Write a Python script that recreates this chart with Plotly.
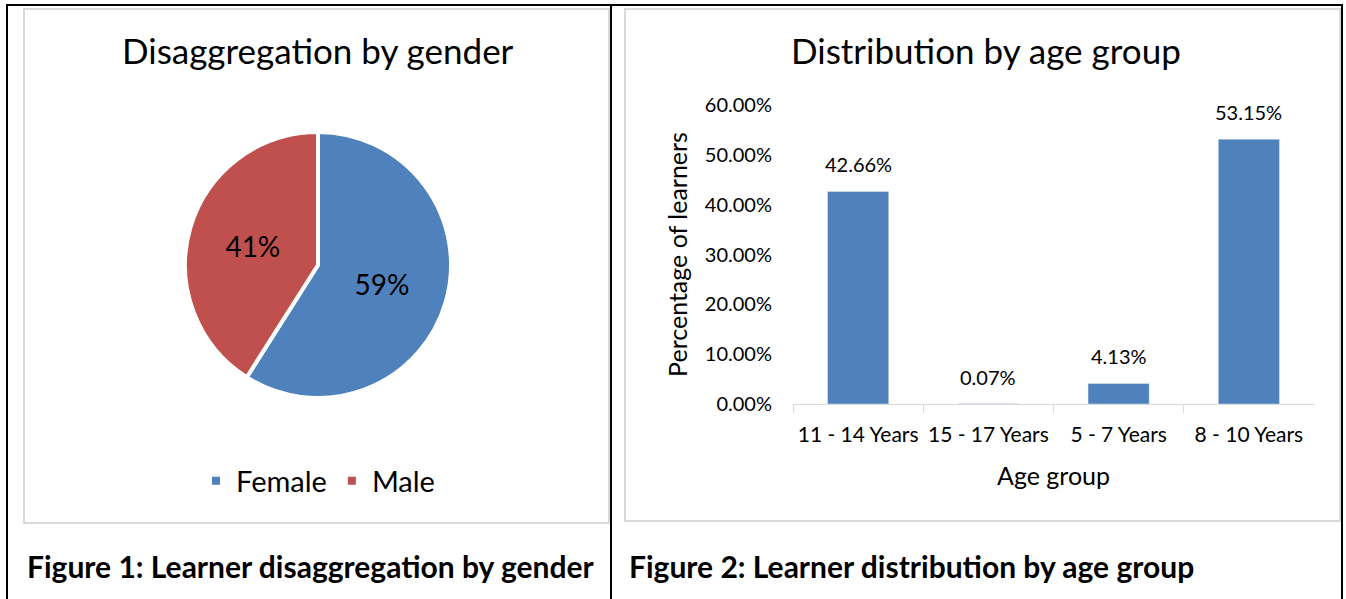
import plotly.graph_objects as go

# Figure 1 data - gender split
genders = ["Female", "Male"]
gender_share = [59, 41]
gender_colors = ["#4F81BD", "#C0504D"]

# Figure 2 data - age groups
age_groups = ["11 - 14 Years", "15 - 17 Years", "5 - 7 Years", "8 - 10 Years"]
age_share = [42.66, 0.07, 4.13, 53.15]
y_ticks = [0, 10, 20, 30, 40, 50, 60]

W, H = 1346, 599
FONT = "Lato, 'Open Sans', sans-serif"


def px_x(x):
    return x / W


def px_y(y):
    return 1 - y / H


fig = go.Figure()

fig.add_trace(go.Pie(
    labels=genders, values=gender_share, sort=False, direction="clockwise",
    rotation=0, marker=dict(colors=gender_colors, line=dict(color="white", width=4)),
    textinfo="percent", texttemplate="%{percent:.0%}", textposition="inside",
    insidetextorientation="horizontal",
    textfont=dict(size=28, color="black", family=FONT),
    domain=dict(x=[px_x(185), px_x(451)], y=[px_y(398), px_y(132)]),
    showlegend=True,
))

fig.add_trace(go.Bar(
    x=age_groups, y=age_share, marker_color="#4F81BD",
    showlegend=False, hoverinfo="x+y",
))

# data labels above the bars (Excel places them a bit higher than plotly's outside text)
for cat, val in zip(age_groups, age_share):
    fig.add_annotation(x=cat, y=val, xref="x", yref="y", text=f"{val:.2f}%", showarrow=False,
                       yshift=27, yanchor="middle", font=dict(size=20, color="black"))

fig.update_layout(
    width=W, height=H, margin=dict(l=0, r=0, t=0, b=0, autoexpand=False),
    paper_bgcolor="white", plot_bgcolor="white",
    font=dict(family=FONT, color="black"),
    bargap=0.53,
    legend=dict(orientation="h", x=px_x(318), xanchor="center", y=px_y(481), yanchor="middle",
                font=dict(size=29), itemwidth=30),
    xaxis=dict(domain=[px_x(793), px_x(1314)], showline=True, linecolor="#D9D9D9", linewidth=1,
               ticks="outside", tickson="boundaries", ticklen=8, tickcolor="#D9D9D9",
               tickfont=dict(size=21), showgrid=False, automargin=False, ticklabelstandoff=12,
               title=dict(text="Age group", font=dict(size=25), standoff=22)),
    yaxis=dict(domain=[px_y(404), px_y(105)], range=[0, 60], tickvals=y_ticks,
               ticktext=[f"{v:.2f}%" for v in y_ticks], tickfont=dict(size=20), showgrid=False,
               showline=False, zeroline=False, ticks="", automargin=False, ticklabelstandoff=20,
               title=dict(text="Percentage of learners", font=dict(size=25), standoff=10)),
)

# chart titles and figure captions
fig.add_annotation(text="Disaggregation by gender", x=px_x(318), y=px_y(50), xref="paper", yref="paper",
                   showarrow=False, font=dict(size=35), xanchor="center", yanchor="middle")
fig.add_annotation(text="Distribution by age group", x=px_x(986), y=px_y(50), xref="paper", yref="paper",
                   showarrow=False, font=dict(size=35), xanchor="center", yanchor="middle")
fig.add_annotation(text="<b>Figure 1: Learner disaggregation by gender</b>", x=px_x(25), y=px_y(566),
                   xref="paper", yref="paper", showarrow=False, font=dict(size=30),
                   xanchor="left", yanchor="middle")
fig.add_annotation(text="<b>Figure 2: Learner distribution by age group</b>", x=px_x(627), y=px_y(566),
                   xref="paper", yref="paper", showarrow=False, font=dict(size=30),
                   xanchor="left", yanchor="middle")

# table lines and chart area frames
fig.add_shape(type="rect", xref="paper", yref="paper", x0=px_x(24), x1=px_x(609), y0=px_y(523), y1=px_y(9),
              line=dict(color="#D9D9D9", width=2))
fig.add_shape(type="rect", xref="paper", yref="paper", x0=px_x(625), x1=px_x(1340), y0=px_y(521), y1=px_y(9),
              line=dict(color="#D9D9D9", width=2))
fig.add_shape(type="rect", xref="paper", yref="paper", x0=px_x(7), x1=px_x(1342), y0=px_y(640), y1=px_y(5),
              line=dict(color="black", width=2))
fig.add_shape(type="line", xref="paper", yref="paper", x0=px_x(611), x1=px_x(611), y0=px_y(640), y1=px_y(5),
              line=dict(color="black", width=2))

fig.write_html("out.html", config={"displayModeBar": False},
               post_script="document.body.style.margin='0';document.body.style.overflow='hidden';")
